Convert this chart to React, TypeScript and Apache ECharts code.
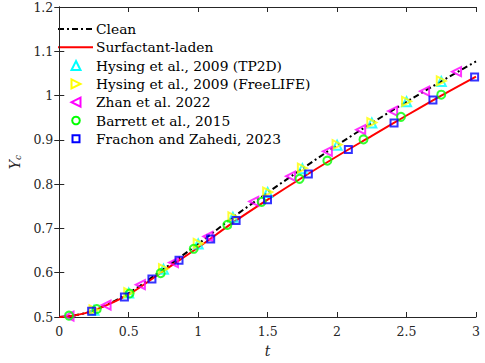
import React, { useEffect, useRef } from "react";
import * as echarts from "echarts";

const xTicks = [0, 0.5, 1, 1.5, 2, 2.5, 3];
const yTicks = [0.5, 0.6, 0.7, 0.8, 0.9, 1, 1.1, 1.2];

const cleanT = [0, 0.1, 0.25, 0.5, 0.75, 1.0, 1.25, 1.5, 1.75, 2.0, 2.25, 2.5, 2.75, 3.0];
const cleanY = [0.5, 0.503, 0.515, 0.554, 0.608, 0.665, 0.725, 0.781, 0.835, 0.888, 0.938, 0.986, 1.032, 1.077];

const surfT = [0, 0.1, 0.25, 0.5, 0.75, 1.0, 1.25, 1.5, 1.75, 2.0, 2.25, 2.5, 2.75, 3.0];
const surfY = [0.5, 0.503, 0.515, 0.551, 0.604, 0.657, 0.713, 0.765, 0.815, 0.863, 0.909, 0.955, 1.0, 1.043];

const tp2dT = [0.25, 0.5, 0.75, 1.0, 1.25, 1.5, 1.75, 2.0, 2.25, 2.5, 2.75];
const tp2dY = [0.515, 0.554, 0.608, 0.665, 0.725, 0.781, 0.835, 0.888, 0.938, 0.986, 1.032];

const freeT = [0.25, 0.5, 0.75, 1.0, 1.25, 1.5, 1.75, 2.0, 2.25, 2.5, 2.75];
const freeY = [0.516, 0.555, 0.609, 0.666, 0.726, 0.782, 0.836, 0.889, 0.939, 0.987, 1.033];

const zhanT = [0.07, 0.337, 0.584, 0.822, 1.07, 1.4, 1.665, 1.93, 2.17, 2.4, 2.63, 2.86];
const zhanY = [0.502, 0.527, 0.573, 0.623, 0.682, 0.761, 0.818, 0.874, 0.923, 0.965, 1.01, 1.054];

const barT = [0.07, 0.27, 0.506, 0.73, 0.968, 1.21, 1.457, 1.73, 1.93, 2.19, 2.46, 2.75];
const barY = [0.503, 0.518, 0.553, 0.599, 0.654, 0.708, 0.76, 0.812, 0.853, 0.901, 0.952, 1.002];

const fraT = [0.233, 0.469, 0.667, 0.862, 1.09, 1.273, 1.499, 1.793, 2.081, 2.41, 2.69, 2.99];
const fraY = [0.513, 0.545, 0.586, 0.628, 0.676, 0.718, 0.765, 0.823, 0.878, 0.938, 0.99, 1.042];

const legendNames = [
  "Clean",
  "Surfactant-laden",
  "Hysing et al., 2009 (TP2D)",
  "Hysing et al., 2009 (FreeLIFE)",
  "Zhan et al. 2022",
  "Barrett et al., 2015",
  "Frachon and Zahedi, 2023",
];

const zip = (a: number[], b: number[]) => a.map((v, i) => [v, b[i]]);

const FONT = "DejaVu Serif";
const AX = "#262626";

export default function App() {
  const ref = useRef<HTMLDivElement>(null);
  useEffect(() => {
    if (!ref.current) return;
    const chart = echarts.init(ref.current, undefined, { renderer: "svg" });
    const hollow = (color: string) => ({
      color: "rgba(0,0,0,0)",
      borderColor: color,
      borderWidth: 2,
    });
    const axisCommon = {
      axisLine: { show: true, lineStyle: { color: AX, width: 1 } },
      axisTick: { show: true, inside: true, length: 5, lineStyle: { color: AX } },
      splitLine: { show: false },
    };

    // manual legend
    const lx0 = 58, lx1 = 93, mx = 76, tx = 96, ly0 = 29, dy = 18.3;
    const legendGraphics: any[] = [];
    const rowY = (i: number) => ly0 + i * dy;
    legendGraphics.push({
      type: "line",
      shape: { x1: lx0, y1: rowY(0), x2: lx1, y2: rowY(0) },
      style: { stroke: "#000", lineWidth: 2, lineDash: [6, 3, 2, 3] },
    });
    legendGraphics.push({
      type: "line",
      shape: { x1: lx0, y1: rowY(1), x2: lx1, y2: rowY(1) },
      style: { stroke: "#ff0000", lineWidth: 2 },
    });
    const h = 4.5;
    const tri = (i: number, dir: string, color: string) => {
      const cy = rowY(i);
      let pts: number[][];
      if (dir === "up") pts = [[mx, cy - h], [mx - h, cy + h], [mx + h, cy + h]];
      else if (dir === "right") pts = [[mx - h, cy - h], [mx + h, cy], [mx - h, cy + h]];
      else pts = [[mx + h, cy - h], [mx - h, cy], [mx + h, cy + h]];
      return {
        type: "polygon",
        shape: { points: pts },
        style: { fill: "none", stroke: color, lineWidth: 2 },
      };
    };
    legendGraphics.push(tri(2, "up", "#00ffff"));
    legendGraphics.push(tri(3, "right", "#ffff00"));
    legendGraphics.push(tri(4, "left", "#ff00ff"));
    legendGraphics.push({
      type: "circle",
      shape: { cx: mx, cy: rowY(5), r: 3.8 },
      style: { fill: "none", stroke: "#00ff00", lineWidth: 2 },
    });
    legendGraphics.push({
      type: "rect",
      shape: { x: mx - 3.5, y: rowY(6) - 3.5, width: 7, height: 7 },
      style: { fill: "none", stroke: "#0000ff", lineWidth: 2 },
    });
    legendNames.forEach((n, i) => {
      legendGraphics.push({
        type: "text",
        x: tx,
        y: rowY(i),
        style: {
          text: n,
          fontFamily: FONT,
          fontSize: 13.8,
          fill: "#000",
          verticalAlign: "middle",
          align: "left",
        },
      });
    });

    chart.setOption({
      animation: false,
      backgroundColor: "#fff",
      grid: { left: 43, right: 9, top: 7, bottom: 41, containLabel: false },
      graphic: legendGraphics,
      xAxis: [
        {
          type: "value",
          min: 0,
          max: 3,
          interval: 0.5,
          position: "bottom",
          ...axisCommon,
          axisLabel: { fontFamily: FONT, fontSize: 12.5, color: AX, margin: 8 },
          name: "t",
          nameLocation: "middle",
          nameGap: 27,
          nameTextStyle: { fontFamily: FONT, fontSize: 14, fontStyle: "italic", color: AX },
        },
        {
          type: "value",
          min: 0,
          max: 3,
          interval: 0.5,
          position: "top",
          ...axisCommon,
          axisLabel: { show: false },
        },
      ],
      yAxis: [
        {
          type: "value",
          min: 0.5,
          max: 1.2,
          interval: 0.1,
          position: "left",
          ...axisCommon,
          axisLabel: {
            fontFamily: FONT,
            fontSize: 12.5,
            color: AX,
            margin: 6,
            formatter: (v: number) => String(Math.round(v * 10) / 10),
          },
          name: "{a|Y}{b|c}",
          nameLocation: "middle",
          nameGap: 27,
          nameRotate: 90,
          nameTextStyle: {
            rich: {
              a: { fontFamily: FONT, fontSize: 14, fontStyle: "italic", color: AX },
              b: { fontFamily: FONT, fontSize: 9, fontStyle: "italic", color: AX, verticalAlign: "bottom", padding: [6, 0, 0, 0] },
            },
          },
        },
        {
          type: "value",
          min: 0.5,
          max: 1.2,
          interval: 0.1,
          position: "right",
          ...axisCommon,
          axisLabel: { show: false },
        },
      ],
      series: [
        {
          name: legendNames[0],
          type: "line",
          data: zip(cleanT, cleanY),
          smooth: 0.3,
          symbol: "none",
          lineStyle: { color: "#000", width: 2, type: [6, 3, 2, 3] },
          z: 2,
        },
        {
          name: legendNames[1],
          type: "line",
          data: zip(surfT, surfY),
          smooth: 0.3,
          symbol: "none",
          lineStyle: { color: "#ff0000", width: 2 },
          z: 3,
        },
        {
          name: legendNames[2],
          type: "scatter",
          data: zip(tp2dT, tp2dY),
          symbol: "triangle",
          symbolSize: 9,
          itemStyle: hollow("#00ffff"),
          z: 4,
        },
        {
          name: legendNames[3],
          type: "scatter",
          data: zip(freeT, freeY),
          symbol: "triangle",
          symbolRotate: -90,
          symbolSize: 9,
          itemStyle: hollow("#ffff00"),
          z: 5,
        },
        {
          name: legendNames[4],
          type: "scatter",
          data: zip(zhanT, zhanY),
          symbol: "triangle",
          symbolRotate: 90,
          symbolSize: 9,
          itemStyle: hollow("#ff00ff"),
          z: 6,
        },
        {
          name: legendNames[5],
          type: "scatter",
          data: zip(barT, barY),
          symbol: "circle",
          symbolSize: 8,
          itemStyle: hollow("#00ff00"),
          z: 7,
        },
        {
          name: legendNames[6],
          type: "scatter",
          data: zip(fraT, fraY),
          symbol: "rect",
          symbolSize: 7,
          itemStyle: hollow("#0000ff"),
          z: 8,
        },
      ],
    });
    return () => chart.dispose();
  }, []);
  return <div ref={ref} style={{ width: 485, height: 363, position: "fixed", left: 0, top: 0 }} />;
}
